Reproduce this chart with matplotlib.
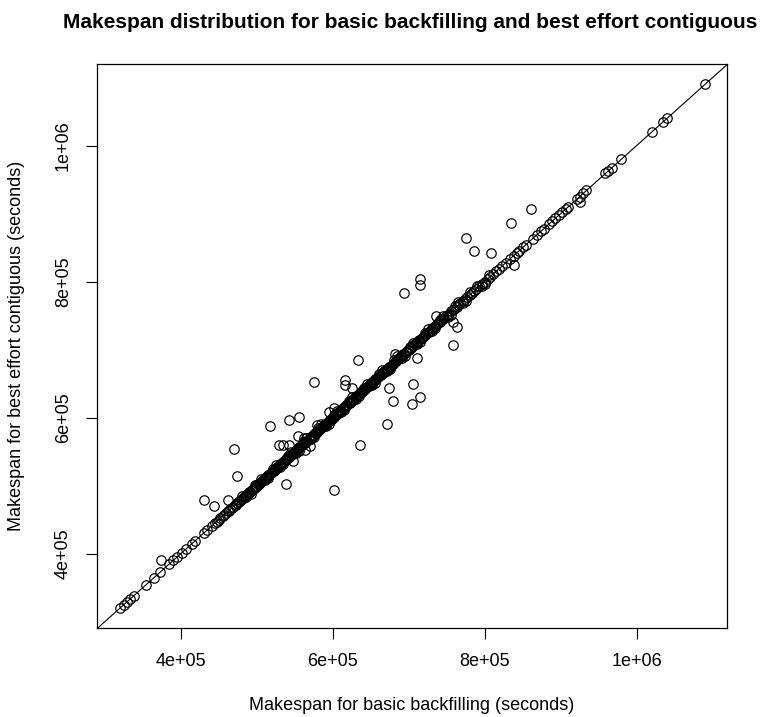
import numpy as np
import matplotlib
matplotlib.use('Agg')
import matplotlib.pyplot as plt

plt.rcParams['font.family'] = ['Liberation Sans', 'DejaVu Sans']

# makespans (in thousands of seconds) where both algorithms gave the same result
same_makespan = [
    320, 324.5, 329, 332.5, 338, 354, 364, 373, 384, 390, 394.5, 401, 407, 414.5, 419, 430, 434,
    441, 445, 447, 450, 452, 455, 457, 459, 462, 463, 465, 467, 469, 471, 472, 474, 476, 477,
    479, 480, 482, 483, 485, 486, 487, 489, 490, 491, 493, 494, 495, 497, 498, 499, 500, 502,
    503, 504, 505, 507, 508, 509, 510, 512, 513, 514, 515, 516, 518, 519, 520, 521, 522, 524,
    525, 526, 527, 528, 530, 531, 532, 533, 534, 535, 537, 538, 539, 540, 541, 542, 544, 545,
    546, 547, 548, 549, 550, 552, 553, 554, 555, 556, 557, 558, 560, 561, 562, 563, 564, 565,
    566, 568, 569, 570, 571, 572, 573, 574, 575, 577, 578, 579, 580, 581, 582, 583, 584, 586,
    587, 588, 589, 590, 591, 592, 593, 595, 596, 597, 598, 599, 600, 601, 602, 604, 605, 606,
    607, 608, 609, 610, 611, 613, 614, 615, 616, 617, 618, 619, 621, 622, 623, 624, 625, 626,
    627, 629, 630, 631, 632, 633, 634, 636, 637, 638, 639, 640, 641, 643, 644, 645, 646, 647,
    649, 650, 651, 652, 653, 655, 656, 657, 658, 660, 661, 662, 663, 665, 666, 667, 668, 670,
    671, 672, 674, 675, 676, 678, 679, 680, 682, 683, 684, 686, 687, 689, 690, 691, 693, 694,
    696, 697, 699, 700, 702, 703, 705, 706, 708, 709, 711, 712, 714, 716, 717, 719, 721, 722,
    724, 726, 728, 729, 731, 733, 735, 737, 739, 741, 743, 745, 747, 749, 751, 753, 756, 758,
    760, 763, 765, 768, 771, 774, 777, 780, 783, 786, 789, 793, 796, 800, 804, 807, 811, 815,
    819, 823, 828, 833, 838, 842, 845, 851, 854, 863, 869, 874, 878, 885, 889, 893, 898, 902,
    907, 910, 921, 925, 930, 934, 959, 962, 967, 980, 1020, 1035, 1040, 1090,
]

# workloads where the two algorithms differ (thousands of seconds)
basic_diff = [
    480, 492, 505, 515, 525, 535, 545, 555, 565, 575, 585, 595, 605, 615, 625, 635, 645, 655,
    665, 675, 685, 695, 705, 715, 725, 735, 745, 755, 765, 775, 790, 800, 925,
    486, 498, 511, 521, 531, 541, 551, 561, 571, 581, 591, 601, 611, 621, 631, 641, 651, 661,
    671, 681, 691, 701, 711, 721, 731, 741, 751, 761, 771, 781, 796, 806,
    374.1, 430.7, 443.8, 461.8, 469.7, 473.3, 517.1, 528.9, 533.8, 542.5, 542.5, 554.9, 554.3,
    562.2, 537.8, 547.4, 569.7, 563.2, 574.6, 579.0, 594.7, 600.9, 601.7, 616.2, 616.2, 625.9,
    633.3, 635.9, 670.7, 674.6, 679.3, 682.5, 704.9, 706.2, 710.9, 714.5, 694.3, 714.9, 714.9,
    735.5, 758.3, 764.1, 758.3, 775.4, 786.4, 808.3, 834.2, 860.9, 838.2,
]
contig_diff = [
    484, 488, 510, 511, 530, 531, 550, 551, 570, 571, 590, 591, 610, 611, 630, 631, 650, 651,
    670, 671, 690, 691, 710, 711, 730, 731, 750, 751, 770, 771, 794, 796, 917,
    483, 501, 508, 524, 528, 544, 548, 564, 568, 584, 588, 604, 608, 624, 628, 644, 648, 664,
    668, 684, 688, 704, 708, 724, 728, 744, 748, 764, 768, 784, 793, 809,
    391.2, 478.4, 470.6, 479.4, 554.0, 513.7, 588.2, 559.9, 559.9, 559.3, 597.1, 600.4, 572.5,
    570.2, 502.9, 535.7, 558.8, 552.9, 652.5, 589.7, 608.8, 613.7, 493.1, 654.9, 648.1, 644.1,
    684.3, 560.3, 591.2, 643.1, 624.6, 693.7, 620.2, 649.6, 687.2, 629.9, 782.8, 804.0, 795.6,
    749.6, 741.2, 733.8, 706.3, 863.7, 845.6, 841.6, 886.3, 907.4, 824.6,
]

basic = np.array(same_makespan + basic_diff) * 1000
contig = np.array(same_makespan + contig_diff) * 1000

tick_vals = [4e5, 6e5, 8e5, 1e6]
tick_labels = ['4e+05', '6e+05', '8e+05', '1e+06']

fig = plt.figure(figsize=(7.67, 7.17), dpi=100)
ax = fig.add_axes([97/767, 1-628/717, 630/767, 564/717])

ax.plot(basic, contig, 'o', ls='none', mfc='none', mec='black', ms=6.8, mew=0.85)
ax.axline((0, 0), slope=1, color='black', lw=0.8)

ax.set_xlim(289.5e3, 1119e3)
ax.set_ylim(290.5e3, 1120e3)
ax.set_xticks(tick_vals)
ax.set_xticklabels(tick_labels)
ax.set_yticks(tick_vals)
ax.set_yticklabels(tick_labels, rotation=90, va='center')
ax.tick_params(direction='out', length=8, width=0.8, pad=10, labelsize=13)
for s in ax.spines.values():
    s.set_linewidth(0.9)

fig.text(412/767, 1-706/717, 'Makespan for basic backfilling (seconds)',
         ha='center', va='center', fontsize=13)
fig.text(17/767, 1-346/717, 'Makespan for best effort contiguous (seconds)',
         ha='center', va='center', rotation=90, fontsize=13)
fig.text(410/767, 1-22/717, 'Makespan distribution for basic backfilling and best effort contiguous',
         ha='center', va='center', fontsize=15, fontweight='bold')

fig.savefig('out.png', dpi=100)
